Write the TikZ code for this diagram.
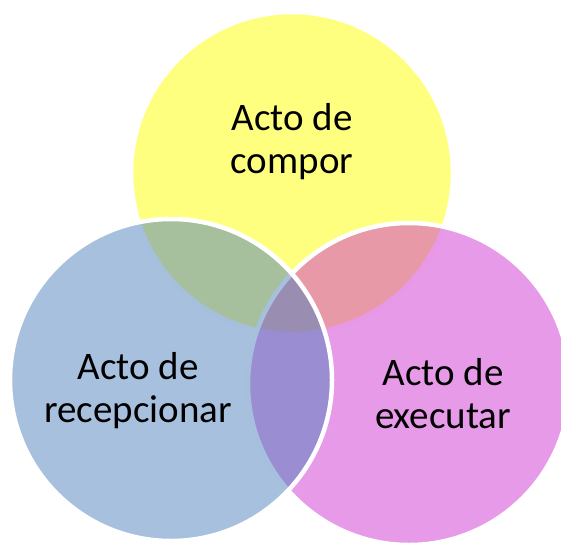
\documentclass[tikz,border=0pt]{standalone}
\usepackage{fontspec}
\setmainfont{Carlito}
\definecolor{cyel}{HTML}{FFFF00}
\definecolor{cblu}{HTML}{4F81BD}
\definecolor{cpnk}{HTML}{D035D0}
\tikzset{
  venn/.style={draw=white, line width=4.5pt, fill opacity=0.5, draw opacity=1},
  lbl/.style={align=center, font=\fontsize{39}{43}\selectfont, text=black, anchor=base, inner sep=0pt}
}
\begin{document}
\begin{tikzpicture}[x=1pt,y=-1pt]
\useasboundingbox (0,0) rectangle (561,543);
\begin{scope}
\clip (0,0) rectangle (561,543);
\path[venn, fill=cyel] (292,173) circle[radius=161];
\path[venn, fill=cpnk] (409,384) circle[radius=161];
\path[venn, fill=cblu] (171,380) circle[radius=161];
\end{scope}
\node[lbl] (comp) at (292,173) {Acto de\\compor};
\node[lbl] (rec) at (138,422) {Acto de\\recepcionar};
\node[lbl] (exe) at (443,428) {Acto de\\executar};
\end{tikzpicture}
\end{document}
